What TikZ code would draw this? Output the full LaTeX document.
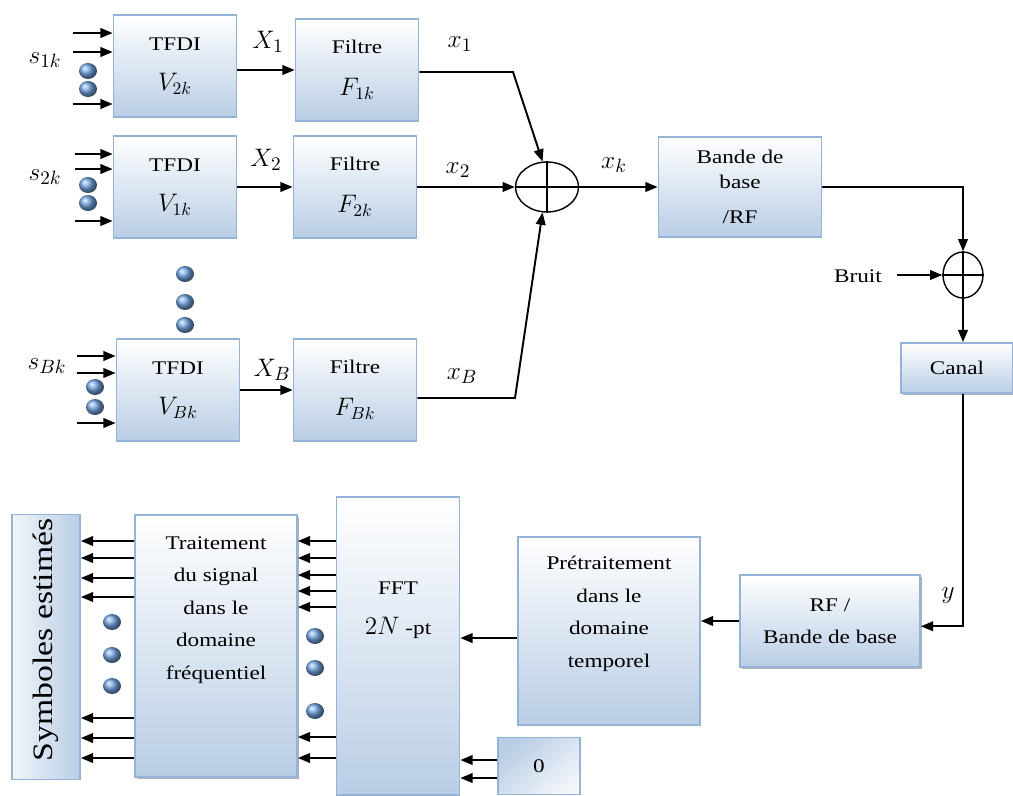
\documentclass[tikz,border=0pt]{standalone}
\usepackage{fontspec}
\setmainfont[FakeStretch=1.2]{Liberation Serif}
\usetikzlibrary{arrows.meta,positioning,shapes.geometric,shadows,calc}
\definecolor{boxfill}{RGB}{185,205,229}
\definecolor{boxline}{RGB}{149,179,215}
\definecolor{dotblue}{RGB}{115,165,225}

\begin{document}
\begin{tikzpicture}[
  x=0.02cm, y=-0.02cm,
  box/.style={draw=boxline, line width=1pt, top color=white, bottom color=boxfill, align=center, inner sep=2pt},
  shadowbox/.style={box, drop shadow={shadow xshift=1.3pt, shadow yshift=-1.3pt, opacity=0.5, fill=black!60}},
  blk/.style={box, minimum width=2.46cm, minimum height=2.04cm},
  txt/.style={align=center, font=\fontsize{11}{18.5}\selectfont},
  lbl/.style={font=\fontsize{15}{17}\selectfont},
  arrow/.style={-{Triangle[length=7pt,width=5.5pt]}, line width=1.1pt},
  summer/.style={draw, ellipse, line width=0.8pt, inner sep=0pt},
  every node/.style={font=\fontsize{11}{14}\selectfont}
]
\useasboundingbox (0,0) rectangle (1013,795);

% emission branches
\node[blk] (tfdi1) at (175,66)  {TFDI\\[9pt]\Large$V_{2k}$};
\node[blk] (filt1) at (357,70)  {Filtre\\[10pt]\Large$F_{1k}$};
\node[blk] (tfdi2) at (175,187) {TFDI\\[9pt]\Large$V_{1k}$};
\node[blk] (filt2) at (355,187) {Filtre\\[10pt]\Large$F_{2k}$};
\node[blk] (tfdi3) at (178,390) {TFDI\\[9pt]\Large$V_{Bk}$};
\node[blk] (filt3) at (355,390) {Filtre\\[10pt]\Large$F_{Bk}$};

\node[lbl] (s1) at (45,60)  {$s_{1k}$};
\node[lbl] (s2) at (45,177) {$s_{2k}$};
\node[lbl] (sB) at (47,366) {$s_{Bk}$};

\foreach \y in {33,52,104} \draw[arrow] (tfdi1.west |- 0,\y) ++(-40,0) -- (tfdi1.west |- 0,\y);
\foreach \y in {154,169,221} \draw[arrow] (tfdi2.west |- 0,\y) ++(-38,0) -- (tfdi2.west |- 0,\y);
\foreach \y in {356,373,423} \draw[arrow] (tfdi3.west |- 0,\y) ++(-39,0) -- (tfdi3.west |- 0,\y);

\foreach \p in {(88,71),(88,89),(88,185),(88,203),(95,387),(95,407),(185,274),(185,302),(185,325)}
  \shade[ball color=dotblue] \p ellipse (0.18cm and 0.16cm);

\draw[arrow] (tfdi1.east |- filt1) -- (filt1.west);
\draw[arrow] (tfdi2.east) -- (filt2.west);
\draw[arrow] (tfdi3.east) -- (filt3.west);
\node[lbl] (X1) at (268,42)  {$X_1$};
\node[lbl] (X2) at (266,160) {$X_2$};
\node[lbl] (XB) at (272,370) {$X_B$};

% sommation
\node[summer, minimum width=1.26cm, minimum height=1cm] (sum1) at (547,187) {};
\draw[line width=0.8pt] (sum1.north) -- (sum1.south) (sum1.west) -- (sum1.east);
\coordinate (k1) at (513,72);
\coordinate (kB) at (515,398);
\draw[arrow] (filt1.east |- k1) -- (k1) -- (sum1.100);
\draw[arrow] (filt2.east) -- (sum1.west);
\draw[arrow] (filt3.east |- kB) -- (kB) -- (sum1.260);
\node[lbl] (x1) at (460,44)  {$x_1$};
\node[lbl] (x2) at (458,170) {$x_2$};
\node[lbl] (xB) at (462,376) {$x_B$};
\node[lbl] (xk) at (614,165) {$x_k$};

\node[box, minimum width=3.26cm, minimum height=2cm] (bb) at (740,187) {Bande de\\base\\[6pt]/RF};
\draw[arrow] (sum1.east) -- (bb.west);

% canal
\node[summer, minimum width=0.8cm, minimum height=0.92cm] (sum2) at (963,275) {};
\draw[line width=0.8pt] (sum2.north) -- (sum2.south) (sum2.west) -- (sum2.east);
\node (bruit) at (858,276) {Bruit};
\draw[arrow] (bb.east) -| (sum2.north);
\draw[arrow] ([xshift=5pt]bruit.east |- sum2.west) -- (sum2.west);
\node[shadowbox, minimum width=2.24cm, minimum height=1cm] (canal) at (957,368) {Canal};
\draw[arrow] (sum2.south) -- (sum2.south |- canal.north);

% reception
\node[shadowbox, minimum width=3.6cm, minimum height=1.84cm] (rf) at (830,621) {RF /\\[4pt]Bande de base};
\draw[arrow] (sum2.south |- canal.south) |- ([yshift=-3pt]rf.east);
\node[lbl] (y) at (948,595) {$y$};

\node[box, minimum width=3.64cm, minimum height=3.76cm] (pre) at (609,631) {};
\node[txt] (pretxt) at (609,614) {Prétraitement\\dans le\\domaine\\temporel};
\draw[arrow] (rf.west) -- (rf.west -| pre.east);

\node[box, minimum width=2.46cm, minimum height=5.96cm] (fft) at (398,646) {};
\node[align=center, font=\fontsize{11}{22.7}\selectfont] (ffttxt) at (398,610) {FFT\\\Large$2N$\normalsize\fontsize{11}{14}\selectfont{} -pt};
\draw[arrow] ([yshift=-4pt]pre.west) -- ([yshift=-4pt]pre.west -| fft.east);

\node[box, top color=boxfill, bottom color=boxfill!20, shading angle=40, minimum width=1.64cm, minimum height=1.14cm] (zero) at (539,766) {0};
\foreach \y in {760,778} \draw[arrow] (zero.west |- 0,\y) -- (fft.east |- 0,\y);

\node[shadowbox, minimum width=3.24cm, minimum height=5.24cm] (trait) at (216,646) {};
\node[txt] (traittxt) at (216,610) {Traitement\\du signal\\dans le\\domaine\\fréquentiel};
\foreach \y in {541,558,575,591,607,737,758} \draw[arrow] (fft.west |- 0,\y) -- (trait.east |- 0,\y);

\node[box, left color=boxfill!20, right color=boxfill, minimum width=1.36cm, minimum height=5.3cm] (sym) at (46,647) {};
\node[rotate=90, font=\fontsize{16}{18}\selectfont] (symtxt) at (46,640) {Symboles estimés};
\foreach \y in {541,558,578,597,718,738,758} \draw[arrow] (trait.west |- 0,\y) -- (sym.east |- 0,\y);

\foreach \p in {(315,636),(315,668),(315,711),(112,622),(112,655),(112,686)}
  \shade[ball color=dotblue] \p ellipse (0.18cm and 0.16cm);

\end{tikzpicture}
\end{document}
